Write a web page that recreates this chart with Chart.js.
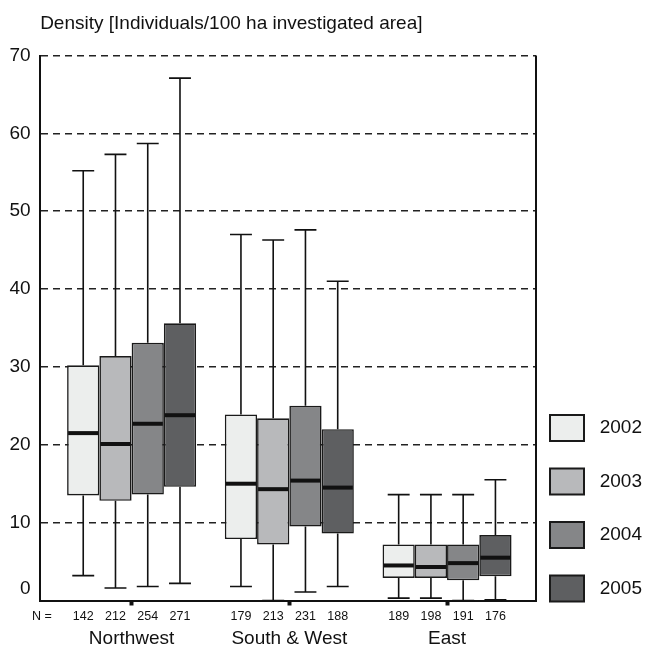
<!DOCTYPE html>
<html><head><meta charset="utf-8">
<script src="https://cdn.jsdelivr.net/npm/chart.js@4"></script>
<style>html,body{margin:0;padding:0;background:#fff}#wrap{width:646px;height:648px;position:relative}</style>
</head><body><div id="wrap"><canvas id="c"></canvas></div>
<script>
const titleText = 'Density [Individuals/100 ha investigated area]';
const groups = ['Northwest', 'South & West', 'East'];
const years = ['2002', '2003', '2004', '2005'];
// each row = one year, each column = one region
const whiskerLow  = [[3.2, 1.8, 0.3], [1.6, 0.0, 0.3], [1.8, 1.1, 0.0], [2.2, 1.8, 0.1]];
const q1          = [[13.5, 7.9, 2.9], [12.8, 7.2, 2.9], [13.6, 9.5, 2.6], [14.6, 8.6, 3.1]];
const median      = [[21.5, 15.0, 4.5], [20.1, 14.3, 4.3], [22.7, 15.4, 4.8], [23.8, 14.5, 5.5]];
const q3          = [[30.2, 23.9, 7.2], [31.4, 23.4, 7.2], [33.1, 25.0, 7.2], [35.6, 22.0, 8.4]];
const whiskerHigh = [[55.2, 47.0, 13.6], [57.3, 46.3, 13.6], [58.7, 47.6, 13.6], [67.1, 41.0, 15.5]];
const counts      = [[142, 179, 189], [212, 213, 198], [254, 231, 191], [271, 188, 176]];
const yTicks = [0, 10, 20, 30, 40, 50, 60, 70];
const colors = ['#eceeed', '#b8b9bb', '#858688', '#5e5f61'];

const FONT = "'Liberation Sans', Arial, Helvetica, sans-serif";
Chart.defaults.font.family = FONT;
Chart.defaults.color = '#111';

const boxPlotExtras = {
  id: 'boxPlotExtras',
  beforeDatasetsDraw(chart) {
    const ctx = chart.ctx, a = chart.chartArea;
    ctx.save();
    ctx.strokeStyle = '#111';
    ctx.lineWidth = 2;
    ctx.beginPath();
    ctx.moveTo(a.right, a.top);
    ctx.lineTo(a.right, a.bottom);
    ctx.stroke();
    ctx.restore();
  },
  afterDatasetsDraw(chart) {
    const ctx = chart.ctx, ys = chart.scales.y, a = chart.chartArea;
    ctx.save();
    years.forEach((yr, d) => {
      const meta = chart.getDatasetMeta(d);
      meta.data.forEach((bar, i) => {
        const {x, width} = bar.getProps(['x', 'width'], true);
        const cap = width * 0.34;
        const yHi = ys.getPixelForValue(whiskerHigh[d][i]);
        const yLo = ys.getPixelForValue(whiskerLow[d][i]);
        const yQ3 = ys.getPixelForValue(q3[d][i]);
        const yQ1 = ys.getPixelForValue(q1[d][i]);
        const yMed = ys.getPixelForValue(median[d][i]);
        ctx.strokeStyle = '#111';
        ctx.lineWidth = 1.6;
        ctx.beginPath();
        ctx.moveTo(x, yQ3); ctx.lineTo(x, yHi);
        ctx.moveTo(x - cap, yHi); ctx.lineTo(x + cap, yHi);
        ctx.moveTo(x, yQ1); ctx.lineTo(x, yLo);
        ctx.moveTo(x - cap, yLo); ctx.lineTo(x + cap, yLo);
        ctx.stroke();
        ctx.lineWidth = 4;
        ctx.beginPath();
        ctx.moveTo(x - width / 2 + 1, yMed); ctx.lineTo(x + width / 2 - 1, yMed);
        ctx.stroke();
        ctx.fillStyle = '#111';
        ctx.font = '12.5px ' + FONT;
        ctx.textAlign = 'center';
        ctx.textBaseline = 'middle';
        ctx.fillText(String(counts[d][i]), x, a.bottom + 16);
      });
    });
    ctx.font = '12.5px ' + FONT;
    ctx.textAlign = 'center';
    ctx.textBaseline = 'middle';
    ctx.fillText('N =', 42, a.bottom + 16);
    ctx.font = '19px ' + FONT;
    ctx.textAlign = 'left';
    ctx.textBaseline = 'alphabetic';
    ctx.fillText(titleText, a.left, 29);
    ctx.restore();
  }
};

new Chart(document.getElementById('c'), {
  type: 'bar',
  data: {
    datasets: years.map((yr, d) => ({
      label: yr,
      data: groups.map((g, i) => ({x: i, y: [q1[d][i], q3[d][i]]})),
      backgroundColor: colors[d],
      borderColor: '#1a1a1a',
      borderWidth: 1.6,
      borderSkipped: false,
      categoryPercentage: 0.818,
      barPercentage: 1.0
    }))
  },
  options: {
    responsive: true,
    maintainAspectRatio: false,
    animation: false,
    layout: {padding: {top: 55.5, left: 0, right: 4, bottom: -24.5}},
    plugins: {
      tooltip: {enabled: false},
      legend: {
        position: 'right',
        align: 'start',
        fullSize: true,
        maxWidth: 106,
        title: {display: true, text: ' ', font: {size: 10, lineHeight: 1}, padding: {top: 335.5, bottom: 0}},
        labels: {
          boxWidth: 34,
          boxHeight: 26,
          padding: 14,
          textAlign: 'right',
          font: {size: 19, lineHeight: '39.5px'},
          color: '#111',
          generateLabels: chart => Chart.defaults.plugins.legend.labels.generateLabels(chart)
            .map(l => Object.assign({}, l, {text: [l.text], lineWidth: 2}))
        }
      }
    },
    scales: {
      x: {
        type: 'linear',
        min: -0.58,
        max: 2.564,
        offset: false,
        afterBuildTicks: s => { s.ticks = groups.map((g, i) => ({value: i})); },
        ticks: {
          callback: v => groups[v],
          font: {size: 19, lineHeight: 1},
          color: '#111',
          padding: 24,
          autoSkip: false,
          maxRotation: 0
        },
        grid: {offset: false, drawOnChartArea: false, drawTicks: true, tickLength: 5, tickWidth: 4, tickColor: '#111'},
        border: {display: true, color: '#111', width: 2}
      },
      y: {
        min: 0,
        max: 70,
        afterBuildTicks: s => { s.ticks = yTicks.map(v => ({value: v})); },
        ticks: {
          font: {size: 19},
          color: '#111',
          padding: 9.5,
          callback: v => (v === 0 ? ['0', ''] : String(v))
        },
        grid: {color: '#222', lineWidth: 1.5, drawTicks: false},
        border: {display: true, color: '#111', width: 2, dash: [7, 5]}
      }
    }
  },
  plugins: [boxPlotExtras]
});
</script>
</body></html>
